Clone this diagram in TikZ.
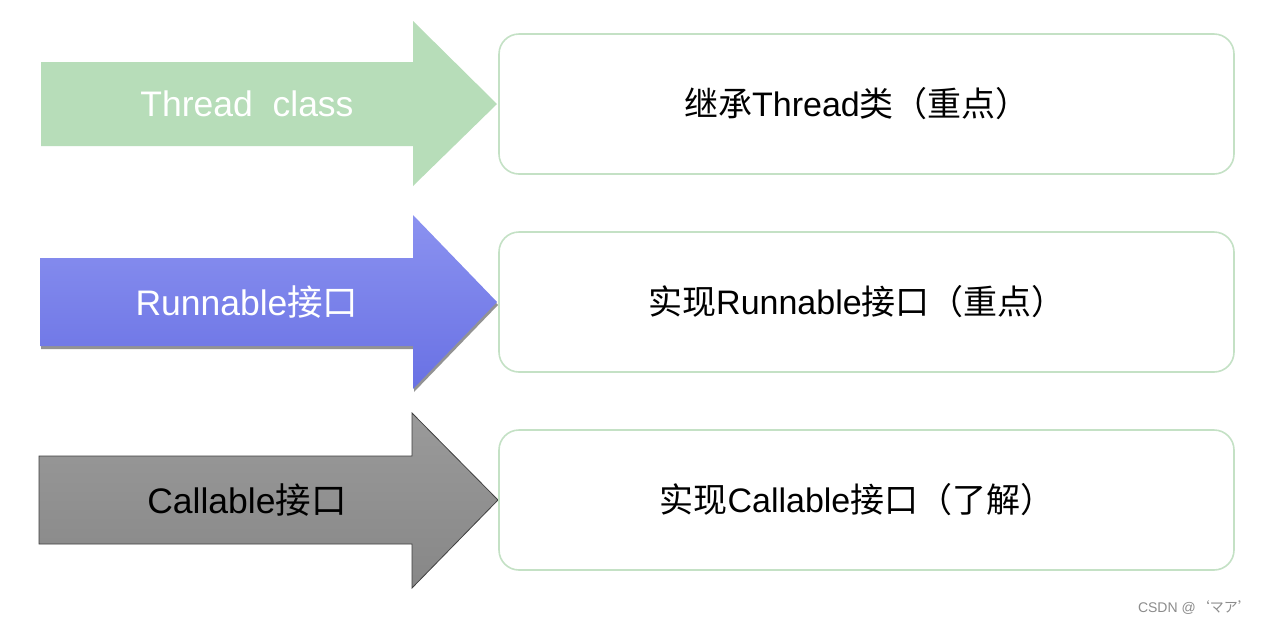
\documentclass[tikz,border=0pt]{standalone}
\usepackage{fontspec}
\setmainfont{Liberation Sans}
\newfontfamily\cjk{Noto Sans CJK SC}
\usetikzlibrary{shadows}
\newcommand\zh[1]{{\cjk #1}}
\definecolor{greenfill}{HTML}{B7DDB9}
\definecolor{boxedge}{HTML}{C4E1C5}
\definecolor{bluetop}{HTML}{8B92F0}
\definecolor{bluebot}{HTML}{6971E4}
\definecolor{graytop}{HTML}{9A9A9A}
\definecolor{graybot}{HTML}{878787}
\definecolor{marktext}{HTML}{8C8C8C}
\tikzset{
  infobox/.style={draw=boxedge, line width=1.6pt, rounded corners=20pt, fill=white},
  boxtext/.style={font=\fontsize{34}{40}\selectfont, text=black, inner sep=0pt},
  arrowtext/.style={font=\fontsize{35.5}{42}\selectfont, inner sep=0pt},
}
\begin{document}
\begin{tikzpicture}[x=1pt,y=-1pt]
\useasboundingbox (0,0) rectangle (1264,625);
\fill[white] (0,0) rectangle (1264,625);

% Thread class arrow
\fill[greenfill] (41,62) -- (413,62) -- (413,21) -- (497,104) -- (413,186) -- (413,146) -- (41,146) -- cycle;
\node[arrowtext, text=white] (a1) at (247,104) {Thread~~class};

% Runnable arrow with shadow
\shade[top color=bluetop, bottom color=bluebot,
  drop shadow={opacity=0.6, fill=black!70, shadow xshift=1pt, shadow yshift=-3pt}]
  (40,258) -- (413,258) -- (413,215) -- (497,302) -- (413,389) -- (413,346) -- (40,346) -- cycle;
\node[arrowtext, text=white] (a2) at (247,302) {Runnable\zh{接口}};

% Callable arrow
\shade[top color=graytop, bottom color=graybot, draw=black!75, line width=0.8pt]
  (39,456) -- (412,456) -- (412,413) -- (498,500) -- (412,588) -- (412,544) -- (39,544) -- cycle;
\node[arrowtext, text=black] (a3) at (247,500) {Callable\zh{接口}};

% description boxes
\draw[infobox] (499,34) rectangle (1234,174);
\node[boxtext] (b1) at (857,104) {\zh{继承}Thread\zh{类（重点）}};
\draw[infobox] (499,232) rectangle (1234,372);
\node[boxtext] (b2) at (857,302) {\zh{实现}Runnable\zh{接口（重点）}};
\draw[infobox] (499,430) rectangle (1234,570);
\node[boxtext] (b3) at (857,500) {\zh{实现}Callable\zh{接口（了解）}};

% watermark
\node[anchor=east, inner sep=0pt, text=marktext, font=\fontsize{14}{16}\selectfont] (wm) at (1252,608) {CSDN @\zh{‘マア’}};
\end{tikzpicture}
\end{document}
